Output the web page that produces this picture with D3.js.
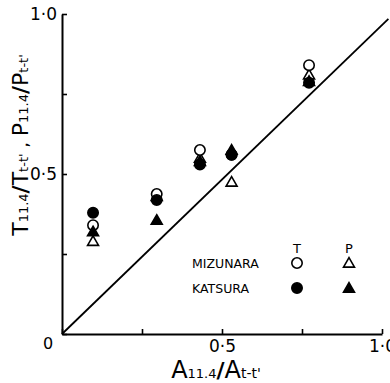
<!DOCTYPE html>
<html>
<head>
<meta charset="utf-8">
<script src="https://cdn.jsdelivr.net/npm/d3@7"></script>
<style>
  body { margin: 0; background: #fff; }
  svg { display: block; }
</style>
</head>
<body>
<div id="chart"></div>
<script>
// ratio A11.4 / At-t' for the five sampling dates
const xVals = [0.097, 0.296, 0.431, 0.53, 0.772];
// T11.4/Tt-t' and P11.4/Pt-t'
const mizunaraT = [0.34, 0.4375, 0.575, 0.56, 0.84];
const mizunaraP = [0.29, 0.43, 0.55, 0.475, 0.81];
const katsuraT = [0.379, 0.419, 0.53, 0.56, 0.785];
const katsuraP = [0.32, 0.356, 0.54, 0.575, 0.79];
const tickVals = [0, 0.25, 0.5, 0.75, 1];
const tickLabels = { 0.5: '0·5', 1: '1·0' };

const width = 390, height = 383;
const svg = d3.select('#chart').append('svg').attr('width', width).attr('height', height);

const x = d3.scaleLinear().domain([0, 1]).range([62, 382]);
const y = d3.scaleLinear().domain([0, 1]).range([334, 14]);
const font = 'DejaVu Sans, sans-serif';

// axes, ticks pointing inward
const gx = svg.append('g').attr('transform', `translate(0,${y(0)})`)
  .call(d3.axisBottom(x).tickValues(tickVals).tickSizeInner(-5).tickSizeOuter(0)
    .tickFormat(d => tickLabels[d] || ''));
const gy = svg.append('g').attr('transform', `translate(${x(0)},0)`)
  .call(d3.axisLeft(y).tickValues(tickVals).tickSizeInner(-5).tickSizeOuter(0)
    .tickFormat(d => tickLabels[d] || ''));
[gx, gy].forEach(g => {
  g.select('.domain').attr('stroke', '#000').attr('stroke-width', 2);
  g.selectAll('line').attr('stroke', '#000').attr('stroke-width', 1.6);
  g.selectAll('text').attr('fill', '#000').style('font-family', font).style('font-size', '17px');
});
gx.selectAll('text').attr('dy', '0.88em');
gy.selectAll('text').attr('x', -5);

svg.append('text').attr('x', 48).attr('y', 349).attr('text-anchor', 'middle')
  .style('font-family', font).style('font-size', '16px').text('0');

// 1:1 line
svg.append('line')
  .attr('x1', x(0)).attr('y1', y(0))
  .attr('x2', x(1.02)).attr('y2', y(0.985))
  .attr('stroke', '#000').attr('stroke-width', 1.8);

const circleR = 5.2;
const tri = d3.symbol().type(d3.symbolTriangle).size(52);

function drawCircles(vals, filled) {
  svg.append('g').selectAll('circle').data(vals).enter().append('circle')
    .attr('cx', (d, i) => x(xVals[i]))
    .attr('cy', d => y(d))
    .attr('r', circleR)
    .attr('fill', filled ? '#000' : '#fff')
    .attr('stroke', '#000').attr('stroke-width', 1.6);
}
function drawTriangles(vals, filled) {
  svg.append('g').selectAll('path').data(vals).enter().append('path')
    .attr('d', tri)
    .attr('transform', (d, i) => `translate(${x(xVals[i])},${y(d) + 1})`)
    .attr('fill', filled ? '#000' : '#fff')
    .attr('stroke', '#000').attr('stroke-width', 1.6);
}
drawTriangles(mizunaraP, false);
drawCircles(mizunaraT, false);
drawCircles(katsuraT, true);
drawTriangles(katsuraP, true);

// legend
const legend = svg.append('g').style('font-family', font);
legend.append('text').attr('x', 297).attr('y', 253).attr('text-anchor', 'middle').style('font-size', '13px').text('T');
legend.append('text').attr('x', 349).attr('y', 253).attr('text-anchor', 'middle').style('font-size', '13px').text('P');
legend.append('text').attr('x', 192).attr('y', 268).style('font-size', '12.5px').text('MIZUNARA');
legend.append('text').attr('x', 192).attr('y', 293).style('font-size', '12.5px').text('KATSURA');
legend.append('circle').attr('cx', 297).attr('cy', 263).attr('r', circleR).attr('fill', '#fff').attr('stroke', '#000').attr('stroke-width', 1.6);
legend.append('circle').attr('cx', 297).attr('cy', 288).attr('r', circleR).attr('fill', '#000').attr('stroke', '#000').attr('stroke-width', 1.6);
legend.append('path').attr('d', tri).attr('transform', 'translate(349,264)').attr('fill', '#fff').attr('stroke', '#000').attr('stroke-width', 1.6);
legend.append('path').attr('d', tri).attr('transform', 'translate(349,289)').attr('fill', '#000').attr('stroke', '#000').attr('stroke-width', 1.6);

// axis titles
function addTitle(el, parts) {
  parts.forEach(p => {
    el.append('tspan').style('font-size', p[1] + 'px')
      .style('font-weight', p[2] || 'normal').text(p[0]);
  });
}
const xt = svg.append('text').attr('x', 216).attr('y', 378).attr('text-anchor', 'middle')
  .style('font-family', font);
addTitle(xt, [['A', 24], ['11.4', 13], ['/', 22, 'bold'], ['A', 24], ['t-t\'', 14]]);

const yt = svg.append('text').attr('transform', 'translate(28,145) rotate(-90)')
  .attr('text-anchor', 'middle').style('font-family', font);
addTitle(yt, [['T', 22], ['11.4', 13], ['/', 22, 'bold'], ['T', 22], ['t-t\'', 13],
  [' ,  ', 18], ['P', 22], ['11.4', 13], ['/', 22, 'bold'], ['P', 22], ['t-t\'', 13]]);
</script>
</body>
</html>
